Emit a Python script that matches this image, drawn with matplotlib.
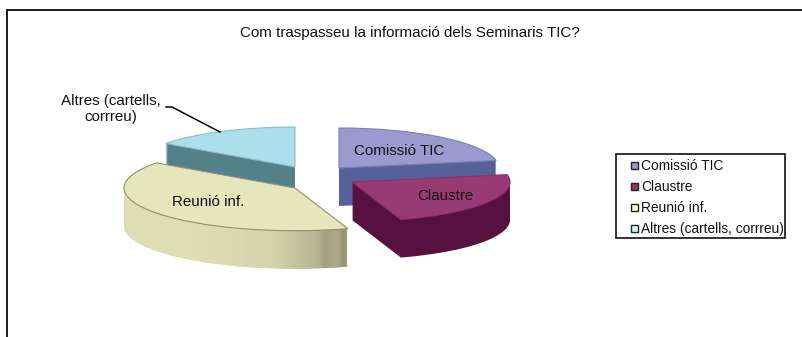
import matplotlib
matplotlib.use("Agg")
import matplotlib.pyplot as plt
from matplotlib.patches import Rectangle
import numpy as np

plt.rcParams['font.family'] = ['Liberation Sans', 'DejaVu Sans']

# --- data ---
categories = ['Comissió TIC', 'Claustre', 'Reunió inf.', 'Altres (cartells, corrreu)']
values = [22, 23, 40, 15]
title = 'Com traspasseu la informació dels Seminaris TIC?'

# --- style ---
top_colors = ['#9a9ad0', '#983a74', '#e6e6bd', '#acdfec']
edge_colors = ['#7d7db4', '#8a3069', '#8f8f70', '#8fbcc8']
wall_colors = ['#56619a', '#561140', '#dedeb4', '#54808a']
legend_colors = ['#9999cc', '#993366', '#ffffcc', '#ccffff']
centers_px = [(339, 168), (352, 182), (295, 188), (295, 167)]
radii_px = [160, 158, 171, 160]
draw_order = [3, 0, 2, 1]
depths = [38, 38, 38, 38]
SQUISH = 0.25
W, H = 803, 337

fig = plt.figure(figsize=(W / 100, H / 100), dpi=100, facecolor='white')
ax = fig.add_axes([0, 0, 1, 1])


def to_data(cx, py):
    return (cx, -py / SQUISH)


fractions = np.array(values) / np.sum(values)
start_clock = np.concatenate([[0], np.cumsum(fractions)[:-1]]) * 360

fade = matplotlib.colors.LinearSegmentedColormap.from_list(
    'w', ['#e0e0b8', '#dedeb4', '#d4d4aa', '#8f8f72'])

for rank, i in enumerate(draw_order):
    base = 10 * (rank + 1)
    cx, cy = centers_px[i]
    start = 90 - start_clock[i]
    # extruded side: stack of darker wedges, bottom to top
    for d in range(depths[i], 0, -1):
        w, _ = ax.pie([fractions[i]], normalize=False, startangle=start, counterclock=False,
                      center=to_data(cx, cy + d), radius=radii_px[i], colors=[wall_colors[i]],
                      wedgeprops=dict(linewidth=0))
        w[0].set_zorder(base + (depths[i] - d) * 0.01)
        if i == 2:
            # Reunió wall fades to a darker olive toward its right end
            grad = np.linspace(0, 1, 256).reshape(1, -1)
            im = ax.imshow(grad, extent=(cx - 175, cx + 52, -(cy + d + 60) / SQUISH, -(cy + d - 60) / SQUISH),
                           cmap=fade, aspect='auto', zorder=base + (depths[i] - d) * 0.01 + 0.001)
            im.set_clip_path(w[0])
    w, _ = ax.pie([fractions[i]], normalize=False, startangle=start, counterclock=False,
                  center=to_data(cx, cy), radius=radii_px[i], colors=[top_colors[i]],
                  wedgeprops=dict(linewidth=0.8, edgecolor=edge_colors[i]))
    w[0].set_zorder(base + 1)

ax.set_aspect('auto')
ax.set_xlim(0, W)
ax.set_ylim(-H / SQUISH, 0)
ax.axis('off')

ov = fig.add_axes([0, 0, 1, 1], facecolor='none')
ov.set_xlim(0, W)
ov.set_ylim(H, 0)
ov.axis('off')

# chart frame, running off the right and bottom edges
ov.plot([7.5, 7.5, W], [H, 9.5, 9.5], color='#1a1a1a', lw=1.4, solid_joinstyle='miter')

FS = 10.9
ov.text(410, 33.5, title, ha='center', va='center', fontsize=FS, color='#111111')
ov.text(399, 151, categories[0], ha='center', va='center', fontsize=FS, color='#111111')
ov.text(445, 196, categories[1], ha='center', va='center', fontsize=FS, color='#111111')
ov.text(208, 202, categories[2], ha='center', va='center', fontsize=FS, color='#111111')
ov.text(111, 109, 'Altres (cartells,\ncorrreu)', ha='center', va='center', fontsize=FS,
        color='#111111', linespacing=1.25)
ov.plot([166, 172, 220], [107, 107, 132], color='black', lw=1.1)

# legend
ov.add_patch(Rectangle((616.5, 153.5), 169, 84, fc='white', ec='#111111', lw=1.2, zorder=5))
for k, (lab, col) in enumerate(zip(categories, legend_colors)):
    y = 165 + k * 21.3
    ov.add_patch(Rectangle((631, y - 3.5), 7, 7, fc=col, ec='#222222', lw=1, zorder=6))
    ov.text(641.5, y + 0.5, lab, ha='left', va='center', fontsize=9.9, color='#111111', zorder=6)

fig.savefig('out.png', dpi=100)
